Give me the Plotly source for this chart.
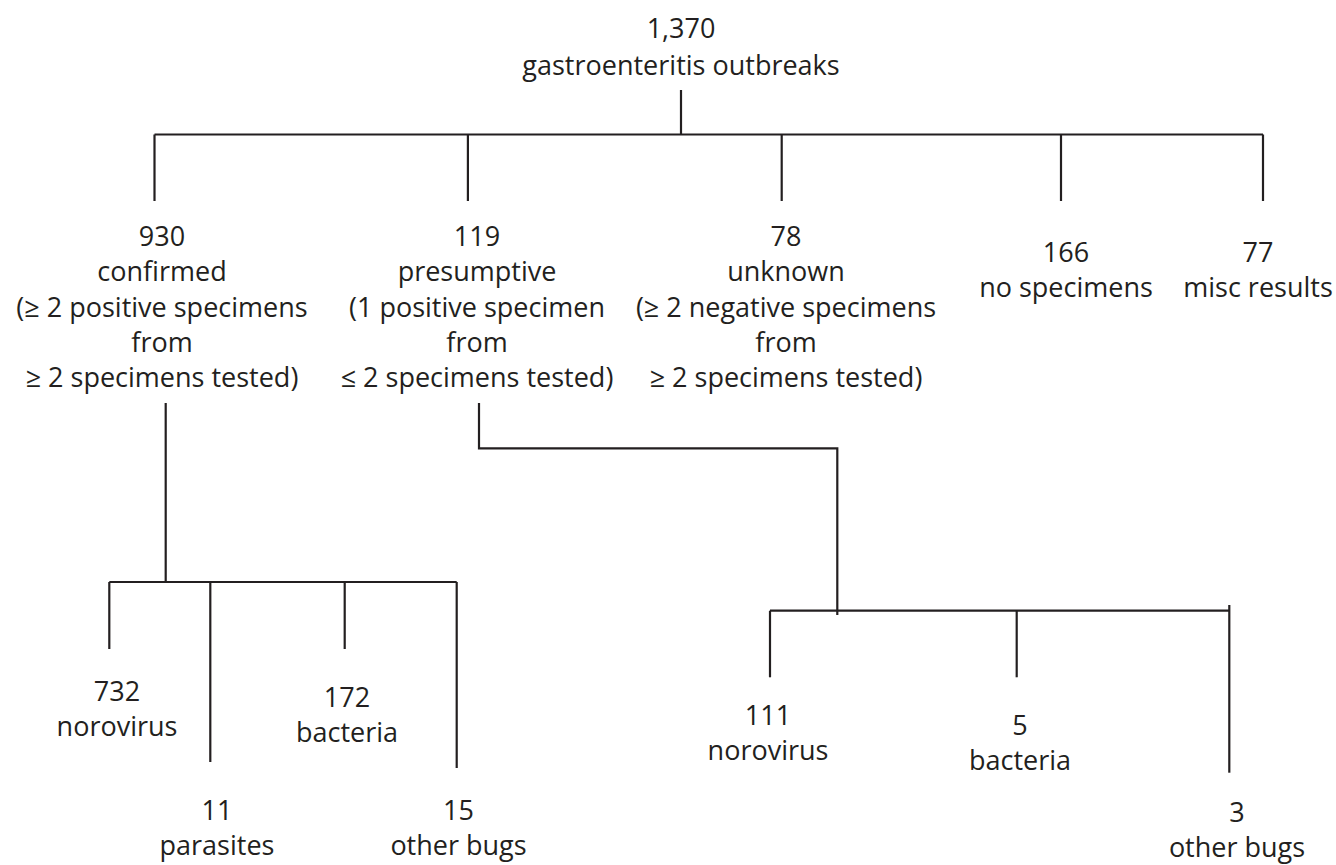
import plotly.graph_objects as go

# ---------------- data ----------------
node_ids = ["root", "confirmed", "presumptive", "unknown", "nospec", "misc",
            "c_noro", "c_para", "c_bact", "c_other",
            "p_noro", "p_bact", "p_other"]
counts = [1370, 930, 119, 78, 166, 77, 732, 11, 172, 15, 111, 5, 3]
labels = [
    ["gastroenteritis outbreaks"],
    ["confirmed", "(\u2265 2 positive specimens", "from", "\u2265 2 specimens tested)"],
    ["presumptive", "(1 positive specimen", "from", "\u2264 2 specimens tested)"],
    ["unknown", "(\u2265 2 negative specimens", "from", "\u2265 2 specimens tested)"],
    ["no specimens"],
    ["misc results"],
    ["norovirus"],
    ["parasites"],
    ["bacteria"],
    ["other bugs"],
    ["norovirus"],
    ["bacteria"],
    ["other bugs"],
]
parents = [None, "root", "root", "root", "root", "root",
           "confirmed", "confirmed", "confirmed", "confirmed",
           "presumptive", "presumptive", "presumptive"]

# ---------------- layout (positions in pixels) ----------------
W, H = 1336, 865
FONT = dict(family="Open Sans", size=27, color="#231f20")
LINE_COLOR = "#231f20"
LINE_W = 2.2

# text anchors: x center, first-line baseline, line spacing
text_x = [681, 162, 477, 786, 1066, 1258, 117, 217, 347, 458.5, 768, 1020, 1237]
text_base = [37.3, 246, 246, 246, 261.7, 261.7, 701, 820, 706.7, 820, 725, 735, 821.7]
text_step = [37.7] + [35.1] * 12

# connectors: (parent stem path), bus y + extent, child drop ends
stem_paths = {
    "root": [(681, 90), (681, 134.5)],
    "confirmed": [(165.7, 403), (165.7, 582)],
    "presumptive": [(479, 403), (479, 448.3), (837.3, 448.3), (837.3, 615)],
}
bus = {
    "root": (134.5, 154.5, 1263),
    "confirmed": (582, 109.3, 456.7),
    "presumptive": (610.7, 770, 1229.3),
}
drop_x = {
    "confirmed": 154.5, "presumptive": 467.9, "unknown": 781.7, "nospec": 1061, "misc": 1263,
    "c_noro": 109.3, "c_para": 210.3, "c_bact": 344.7, "c_other": 456.7,
    "p_noro": 770, "p_bact": 1016.7, "p_other": 1229.3,
}
drop_top = {"p_other": 605}
drop_end = {
    "confirmed": 201, "presumptive": 201, "unknown": 201, "nospec": 201, "misc": 201,
    "c_noro": 649, "c_para": 762, "c_bact": 649, "c_other": 768,
    "p_noro": 677.3, "p_bact": 677.3, "p_other": 772.7,
}

fig = go.Figure()

# lines
lx, ly = [], []
for pid, pts in stem_paths.items():
    for (x, y) in pts:
        lx.append(x); ly.append(y)
    lx.append(None); ly.append(None)
for pid, (by, x0, x1) in bus.items():
    lx += [x0, x1, None]; ly += [by, by, None]
for nid, par in zip(node_ids, parents):
    if par is None:
        continue
    by = bus[par][0]
    top = drop_top.get(nid, by)
    lx += [drop_x[nid], drop_x[nid], None]
    ly += [top, drop_end[nid], None]

fig.add_trace(go.Scatter(x=lx, y=ly, mode="lines",
                         line=dict(color=LINE_COLOR, width=LINE_W),
                         hoverinfo="skip", showlegend=False))

# text
tx, ty, tt = [], [], []
CAP = 0.35 * FONT["size"] - 3
for i, nid in enumerate(node_ids):
    lines = [f"{counts[i]:,}"] + labels[i]
    for k, s in enumerate(lines):
        tx.append(text_x[i])
        ty.append(text_base[i] + k * text_step[i] - CAP)
        tt.append(s)

fig.add_trace(go.Scatter(x=tx, y=ty, text=tt, mode="text",
                         textposition="middle center", textfont=FONT,
                         hoverinfo="skip", showlegend=False))

fig.update_layout(
    width=W, height=H,
    margin=dict(l=0, r=0, t=0, b=0),
    paper_bgcolor="white", plot_bgcolor="white",
    xaxis=dict(range=[0, W], visible=False, fixedrange=True),
    yaxis=dict(range=[H, 0], visible=False, fixedrange=True),
)

fig.write_html("out.html", config={"displayModeBar": False},
               post_script="document.body.style.margin='0';")
